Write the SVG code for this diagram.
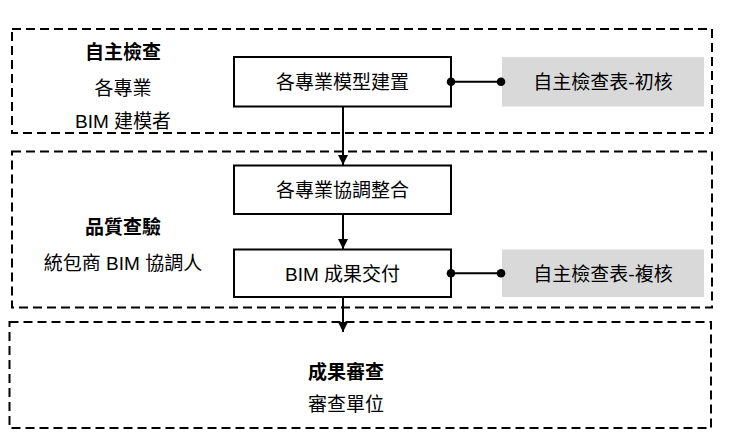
<svg xmlns="http://www.w3.org/2000/svg" width="731" height="448" viewBox="0 0 731 448">
<style>
  .zone{fill:none;stroke:#000;stroke-width:2;stroke-dasharray:9 5}
  .box{fill:#fff;stroke:#000;stroke-width:2}
  .gbox{fill:#d9d9d9;stroke:none}
  .t{font-family:"Liberation Sans","Noto Sans CJK TC",sans-serif;font-size:19px;fill:#000;text-anchor:middle}
  .b{font-weight:bold}
  .ln{stroke:#000;stroke-width:2;fill:none}
  .dot{fill:#000}
</style>
<defs>
  <marker id="arr" markerUnits="userSpaceOnUse" markerWidth="10" markerHeight="10" refX="10" refY="5" orient="auto">
    <path d="M0,0 L10,5 L0,10 z" fill="#000"/>
  </marker>
</defs>
<g id="zone-self-check">
  <rect class="zone" x="12" y="29" width="700" height="104"/>
  <text class="t b" x="123" y="59">自主檢查</text>
  <text class="t" x="123" y="95">各專業</text>
  <text class="t" x="123" y="128">BIM 建模者</text>
</g>
<g id="zone-quality">
  <rect class="zone" x="12" y="151.5" width="700" height="156"/>
  <text class="t b" x="123" y="234">品質查驗</text>
  <text class="t" x="123" y="269.5">統包商 BIM 協調人</text>
</g>
<g id="zone-review">
  <rect class="zone" x="9.5" y="322" width="701.5" height="106"/>
  <text class="t b" x="346" y="379">成果審查</text>
  <text class="t" x="346" y="410.5">審查單位</text>
</g>
<g id="node-model">
  <rect class="box" x="234" y="57" width="217" height="49.5"/>
  <text class="t" x="342.5" y="89">各專業模型建置</text>
</g>
<g id="node-check1">
  <rect class="gbox" x="502" y="57" width="202" height="49.5"/>
  <text class="t" x="603" y="89">自主檢查表-初核</text>
</g>
<g id="node-coord">
  <rect class="box" x="234" y="165.5" width="217" height="48.5"/>
  <text class="t" x="342.5" y="197">各專業協調整合</text>
</g>
<g id="node-deliver">
  <rect class="box" x="234" y="249.5" width="217" height="47.5"/>
  <text class="t" x="342.5" y="280.5">BIM 成果交付</text>
</g>
<g id="node-check2">
  <rect class="gbox" x="502" y="249.5" width="202" height="47.5"/>
  <text class="t" x="603" y="280.5">自主檢查表-複核</text>
</g>
<g id="connectors">
  <line class="ln" x1="343" y1="106.5" x2="343" y2="165" marker-end="url(#arr)"/>
  <line class="ln" x1="343" y1="214" x2="343" y2="249" marker-end="url(#arr)"/>
  <line class="ln" x1="343" y1="297" x2="343" y2="332" marker-end="url(#arr)"/>
  <line class="ln" x1="451" y1="81.7" x2="501" y2="81.7"/>
  <circle class="dot" cx="451" cy="81.7" r="4.3"/>
  <circle class="dot" cx="501" cy="81.7" r="4.3"/>
  <line class="ln" x1="451" y1="273.3" x2="501" y2="273.3"/>
  <circle class="dot" cx="451" cy="273.3" r="4.3"/>
  <circle class="dot" cx="501" cy="273.3" r="4.3"/>
</g>
</svg>
